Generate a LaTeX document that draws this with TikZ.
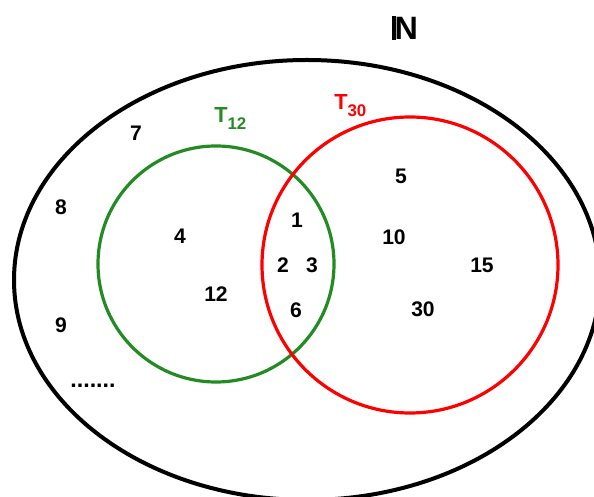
\documentclass[tikz,border=0pt]{standalone}
\usepackage{fontspec}
\setmainfont{Liberation Sans}
\definecolor{setgreen}{RGB}{34,139,34}
\begin{document}
\begin{tikzpicture}[x=0.025cm,y=-0.025cm,
  num/.style={font=\fontsize{15}{18}\selectfont\bfseries,inner sep=0pt},
  setlabel/.style={font=\fontsize{15.5}{18}\selectfont\bfseries,anchor=base west,inner sep=0pt}]
\useasboundingbox (0,0) rectangle (594,497);
\clip (0,0) rectangle (594,497);
% the naturals
\draw[line width=0.1cm] (307,280) ellipse [x radius=293, y radius=220];
\node[font=\fontsize{23}{26}\selectfont\bfseries,inner sep=0pt] (nat) at (405,28) {\rule{0.12em}{0.716em}\kern-0.04em N};
% divisors of 12 and of 30
\draw[setgreen,line width=0.08cm] (216,264) circle [radius=118];
\draw[red,line width=0.08cm] (410,265) circle [radius=148];
\node[setlabel,setgreen] (t12) at (214,123) {T\raisebox{-4.3pt}{\fontsize{12}{14}\selectfont 12}};
\node[setlabel,red] (t30) at (334,110) {T\raisebox{-4.3pt}{\fontsize{12}{14}\selectfont 30}};
\foreach \n/\x/\y in {7/136/133, 8/61/207, 9/61/325, 4/180/236, 12/216/294,
    1/297/220, 2/283/265, 3/312/265, 6/296/310,
    5/401/176, 10/394/237, 15/482/265, 30/423/309} {
  \node[num] (n\n) at (\x,\y) {\n};
}
\node[num,font=\fontsize{16.5}{19}\selectfont\bfseries] (dots) at (93,386) {.......};
\end{tikzpicture}
\end{document}
